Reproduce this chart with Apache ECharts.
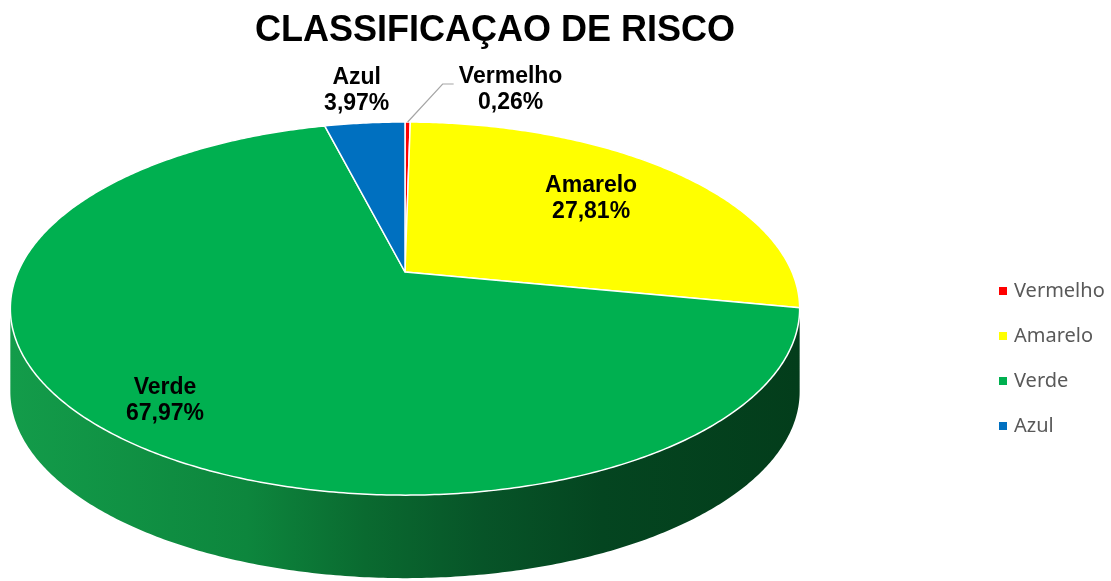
<!DOCTYPE html>
<html>
<head>
<meta charset="utf-8">
<script src="https://cdn.jsdelivr.net/npm/echarts@6/dist/echarts.min.js"></script>
<style>
  html, body { margin: 0; padding: 0; background: #fff; }
  #chart { width: 1111px; height: 581px; }
</style>
</head>
<body>
<div id="chart"></div>
<script>
// dados
const categories = ['Vermelho', 'Amarelo', 'Verde', 'Azul']
const values = [0.26, 27.81, 67.97, 3.97]
const colors = ['#FF0000', '#FFFF00', '#00B050', '#0070C0']

// geometria da pizza 3D (perspectiva simples)
const CX = 405, CY = 272
const RX = 387, RY = 179.4
const K = 0.196 // perspectiva
const DEPTH = 83

// posicao dos rotulos (por fatia)
const labelCfg = {
  Vermelho: { outside: true, dx: 103, dy: -32, leader: true },
  Amarelo: { f: 0.67, dy: -3 },
  Verde: { f: 0.8, dy: 11 },
  Azul: { outside: true, dx: -8, dy: -32 },
}

function proj(f, a, z) {
  const u = f * Math.sin(a)
  const v = f * Math.cos(a)
  const d = 1 + K * v
  return [CX + (RX * u) / d, CY - (RY * v) / d + z * DEPTH]
}

function arc(a0, a1, z) {
  const n = Math.max(2, Math.ceil(Math.abs(a1 - a0) / 0.01))
  const pts = []
  for (let i = 0; i <= n; i++) pts.push(proj(1, a0 + ((a1 - a0) * i) / n, z))
  return pts
}

const fmt = (v) => v.toFixed(2).replace('.', ',') + '%'

const total = values.reduce((s, v) => s + v, 0)
const visA = Math.acos(-K)
const visB = Math.PI * 2 - visA

const sideFill = new echarts.graphic.LinearGradient(10, 0, 800, 0, [
  { offset: 0, color: '#139c4a' },
  { offset: 0.3, color: '#0d863d' },
  { offset: 0.45, color: '#0a6a30' },
  { offset: 0.6, color: '#075428' },
  { offset: 0.75, color: '#044520' },
  { offset: 1, color: '#033d1b' },
], true)

function renderSlice(params, api) {
  const i = params.seriesIndex
  let before = 0
  for (let j = 0; j < i; j++) before += values[j]
  const a0 = (before / total) * Math.PI * 2
  const a1 = ((before + api.value(0)) / total) * Math.PI * 2
  const children = []

  // lateral visivel
  const s0 = Math.max(a0, visA)
  const s1 = Math.min(a1, visB)
  if (s1 > s0) {
    const pts = arc(s0, s1, 0).concat(arc(s1, s0, 1))
    children.push({
      type: 'polygon',
      z2: 0,
      shape: { points: pts },
      style: { fill: sideFill, stroke: null },
    })
  }

  // topo
  const top = [proj(0, 0, 0)].concat(arc(a0, a1, 0))
  children.push({
    type: 'polygon',
    z2: 1,
    shape: { points: top },
    style: { fill: colors[i], stroke: '#ffffff', lineWidth: 1.5, lineJoin: 'round' },
  })

  // rotulo
  const name = categories[i]
  const cfg = labelCfg[name]
  const mid = (a0 + a1) / 2
  let lx, ly
  if (cfg.outside) {
    const e = proj(1, mid, 0)
    lx = e[0] + cfg.dx
    ly = e[1] + cfg.dy
    if (cfg.leader) {
      children.push({
        type: 'polyline',
        z2: 2,
        shape: { points: [e, [e[0] + 35, e[1] - 38], [e[0] + 46, e[1] - 38]] },
        style: { stroke: '#a6a6a6', lineWidth: 1.2, fill: null },
      })
    }
  } else {
    const p = proj(cfg.f, mid, 0)
    lx = p[0]
    ly = p[1] + cfg.dy
  }
  children.push({
    type: 'text',
    z2: 3,
    style: {
      text: name + '\n' + fmt(values[i]),
      x: lx,
      y: ly,
      align: 'center',
      verticalAlign: 'middle',
      font: 'bold 23px "Liberation Sans", Arial, sans-serif',
      lineHeight: 26,
      fill: '#000000',
    },
  })
  return { type: 'group', children }
}

const chart = echarts.init(document.getElementById('chart'))
chart.setOption({
  animation: false,
  title: {
    text: 'CLASSIFICAÇAO DE RISCO',
    left: 490,
    textAlign: 'center',
    top: 8,
    textStyle: {
      fontFamily: '"Liberation Sans", Arial, sans-serif',
      fontWeight: 'bold',
      fontSize: 36,
      color: '#000',
    },
  },
  legend: {
    orient: 'vertical',
    left: 994,
    top: 275,
    icon: 'rect',
    itemWidth: 8,
    itemHeight: 8,
    itemGap: 23,
    data: categories,
    textStyle: {
      fontFamily: '"Noto Sans", sans-serif',
      fontSize: 20,
      lineHeight: 22,
      color: '#595959',
      padding: [0, 0, 0, 2],
    },
  },
  series: categories.map((name, i) => ({
    type: 'custom',
    name,
    coordinateSystem: 'none',
    silent: true,
    itemStyle: { color: colors[i] },
    data: [values[i]],
    renderItem: renderSlice,
  })),
})
</script>
</body>
</html>
